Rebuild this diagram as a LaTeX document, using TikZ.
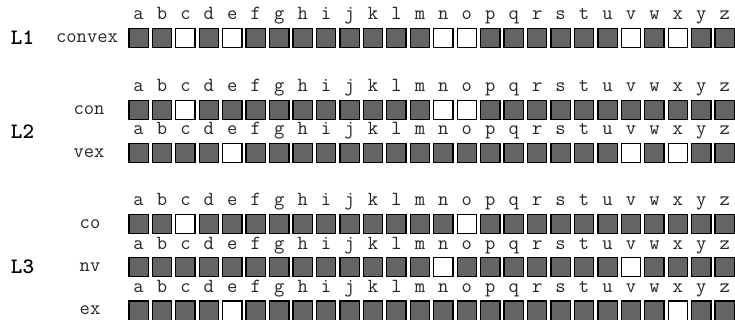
\documentclass[tikz,border=0pt]{standalone}
\definecolor{cellgray}{RGB}{100,100,100}
\makeatletter
\newcommand\cellrow[3]{%
  \foreach \l [count=\i from 0] in {a,...,z} {%
    \def\cellfill{cellgray}%
    \edef\tmp{\noexpand\in@{,\l,}{,#3,}}\tmp
    \ifin@ \def\cellfill{white}\fi
    \node[cell, fill=\cellfill] (#1-\l) at ({138.5+23.45*\i},#2) {};
    \node[letter, anchor=base] (#1-t\l) at ({138.5+23.45*\i},{#2-18}) {\l};
  }}
\makeatother
\begin{document}
\begin{tikzpicture}[x=1pt,y=-1pt,
  cell/.style={draw=black, line width=1.3pt, minimum size=19.3pt, inner sep=0pt, outer sep=0pt},
  letter/.style={font=\ttfamily\fontsize{20}{22}\selectfont, inner sep=0pt, text=black!85},
  lab/.style={font=\ttfamily\fontsize{20}{22}\selectfont, inner sep=0pt, text=black!85},
  lev/.style={font=\ttfamily\bfseries\fontsize{22}{24}\selectfont, inner sep=0pt}]
\useasboundingbox (0,0) rectangle (735,320);
% L1
\node[lev] (L1) at (22.5,38) {L1};
\node[lab] (w-convex) at (87,38) {convex};
\cellrow{convex}{38}{c,e,n,o,v,x}
% L2
\node[lev] (L2) at (22.5,131.5) {L2};
\node[lab] (w-con) at (89,110) {con};
\node[lab] (w-vex) at (89,153) {vex};
\cellrow{con}{110}{c,n,o}
\cellrow{vex}{153}{e,v,x}
% L3
\node[lev] (L3) at (22.5,267) {L3};
\node[lab] (w-co) at (90,224) {co};
\node[lab] (w-nv) at (90,267) {nv};
\node[lab] (w-ex) at (90,310) {ex};
\cellrow{co}{224}{c,o}
\cellrow{nv}{267}{n,v}
\cellrow{ex}{310.5}{e,x}
\end{tikzpicture}
\end{document}
